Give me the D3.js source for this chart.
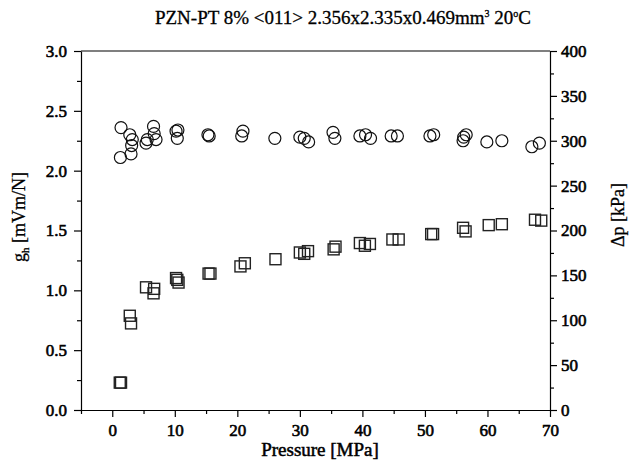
<!DOCTYPE html>
<html><head><meta charset="utf-8">
<script src="https://cdn.jsdelivr.net/npm/d3@7"></script>
<style>
body{margin:0;background:#fff;}
</style></head>
<body><svg id="c" width="629" height="462"></svg>
<script>
// g_h (left axis) – circles
const ghPressure = [1.4,2.8,3.2,3.1,1.3,3.0,5.4,5.6,6.6,6.7,7.0,10.5,10.4,10.2,15.3,15.5,20.9,20.7,26.0,30.0,30.7,31.4,35.3,35.6,39.6,40.5,41.3,44.6,45.6,50.8,51.4,56.2,56.6,56.1,59.9,62.3,67.1,68.3];
const ghValues   = [2.36,2.30,2.26,2.21,2.11,2.14,2.23,2.26,2.37,2.31,2.26,2.34,2.27,2.33,2.30,2.29,2.33,2.29,2.27,2.28,2.27,2.24,2.32,2.27,2.29,2.30,2.27,2.29,2.29,2.29,2.30,2.28,2.30,2.25,2.24,2.25,2.20,2.23];
// Δp (right axis) – squares
const dpPressure = [1.2,1.4,2.8,3.0,5.4,6.7,6.6,10.4,10.6,10.2,15.4,15.7,20.5,21.2,26.1,30.0,30.7,31.3,35.4,35.7,39.6,40.4,41.2,44.8,45.8,51.0,51.3,56.1,56.5,60.2,62.3,67.6,68.6];
const dpValues   = [30.5,30.5,105,96.5,136.7,135,130,145,142,147,152,152,160,163.5,168,175.5,174,177,179,182,186,183,185,190,190,196,196,203,199,206,207,212,211];
const xTicks = [0,10,20,30,40,50,60,70];
const yLeftTicks = [0.0,0.5,1.0,1.5,2.0,2.5,3.0];
const yRightTicks = [0,50,100,150,200,250,300,350,400];

const svg = d3.select("#c");
const L=81, R=550, T=51, B=410;
const x = d3.scaleLinear().domain([-5,70]).range([L,R]);
const yL = d3.scaleLinear().domain([0,3]).range([B,T]);
const yR = d3.scaleLinear().domain([0,400]).range([B,T]);
const SERIF = "Liberation Serif";

function styleAxis(g){
  g.attr("font-family",SERIF).attr("font-size",17);
  g.selectAll("path,line").attr("stroke","#000").attr("stroke-width",1.2);
  g.selectAll("text").attr("fill","#000").attr("stroke","#000").attr("stroke-width",0.6);
}
// minor ticks
const xMinor = d3.range(-5,71,5).filter(v=>!xTicks.includes(v));
svg.append("g").attr("transform",`translate(0,${B})`)
  .call(d3.axisBottom(x).tickValues(xMinor).tickSize(4).tickFormat(""))
  .call(styleAxis).select(".domain").remove();
svg.append("g").attr("transform",`translate(${L},0)`)
  .call(d3.axisLeft(yL).tickValues(d3.range(0.25,3,0.5)).tickSize(4).tickFormat(""))
  .call(styleAxis).select(".domain").remove();
svg.append("g").attr("transform",`translate(${R},0)`)
  .call(d3.axisRight(yR).tickValues(d3.range(25,400,50)).tickSize(4).tickFormat(""))
  .call(styleAxis).select(".domain").remove();

svg.append("g").attr("transform",`translate(0,${B})`)
  .call(d3.axisBottom(x).tickValues(xTicks).tickSize(7).tickSizeOuter(0).tickPadding(7).tickFormat(d3.format("d")))
  .call(styleAxis);
svg.append("g").attr("transform",`translate(${L},0)`)
  .call(d3.axisLeft(yL).tickValues(yLeftTicks).tickSize(7).tickSizeOuter(0).tickPadding(7).tickFormat(d3.format(".1f")))
  .call(styleAxis);
svg.append("g").attr("transform",`translate(${R},0)`)
  .call(d3.axisRight(yR).tickValues(yRightTicks).tickSize(7).tickSizeOuter(0).tickPadding(4).tickFormat(d3.format("d")))
  .call(styleAxis);
// top border
svg.append("line").attr("x1",L).attr("x2",R).attr("y1",T).attr("y2",T).attr("stroke","#000").attr("stroke-width",1.2);

// squares
const sq = 11;
svg.append("g").selectAll("rect").data(dpPressure.map((p,i)=>[p,dpValues[i]])).join("rect")
  .attr("x",d=>x(d[0])-sq/2).attr("y",d=>yR(d[1])-sq/2).attr("width",sq).attr("height",sq)
  .attr("fill","none").attr("stroke","#222").attr("stroke-width",1.4);
// circles
svg.append("g").selectAll("circle").data(ghPressure.map((p,i)=>[p,ghValues[i]])).join("circle")
  .attr("cx",d=>x(d[0])).attr("cy",d=>yL(d[1])).attr("r",6)
  .attr("fill","none").attr("stroke","#111").attr("stroke-width",1.2);

// title
const t = svg.append("text").attr("x",343).attr("y",24).attr("text-anchor","middle")
  .attr("font-family",SERIF).attr("font-size",19).attr("stroke","#000").attr("stroke-width",0.3);
t.append("tspan").text("PZN-PT 8% <011> 2.356x2.335x0.469mm");
t.append("tspan").attr("dy",-7).attr("font-size",10).text("3");
t.append("tspan").attr("dy",7).text(" 20");
t.append("tspan").attr("dy",-7).attr("font-size",10).text("o");
t.append("tspan").attr("dy",7).text("C");

// axis labels
svg.append("text").attr("x",320).attr("y",456).attr("text-anchor","middle")
  .attr("font-family",SERIF).attr("font-size",19).attr("stroke","#000").attr("stroke-width",0.5).text("Pressure [MPa]");
const yl = svg.append("text").attr("transform",`translate(25,217) rotate(-90)`).attr("text-anchor","middle")
  .attr("font-family",SERIF).attr("font-size",18).attr("stroke","#000").attr("stroke-width",0.3);
yl.append("tspan").text("g");
yl.append("tspan").attr("dy",4).attr("font-size",11).text("h");
yl.append("tspan").attr("dy",-4).text(" [mVm/N]");
svg.append("text").attr("transform",`translate(624,215) rotate(-90)`).attr("text-anchor","middle")
  .attr("font-family",SERIF).attr("font-size",18).attr("stroke","#000").attr("stroke-width",0.3).text("Δp [kPa]");
</script></body></html>
